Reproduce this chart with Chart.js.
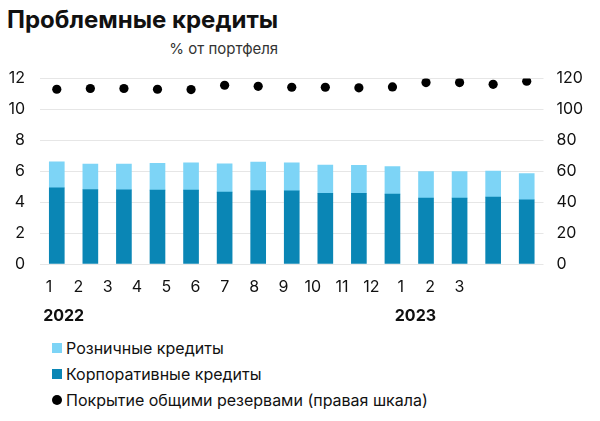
<!DOCTYPE html>
<html>
<head>
<meta charset="utf-8">
<script src="https://cdn.jsdelivr.net/npm/chart.js@4"></script>
<style>
  body { margin: 0; background: #fff; font-family: Inter, "Noto Sans", sans-serif; color: #111; }
  #head { position: absolute; left: 7px; top: 6px; display: inline-block; }
  #head h1 { margin: 0; font-size: 24px; line-height: 27px; font-weight: 700; letter-spacing: 0px; }
  #head div { text-align: right; font-size: 15px; color: #333; margin-top: 6px; }
  #box { position: absolute; left: 0; top: 54px; width: 600px; height: 276px; }
  #legend { position: absolute; left: 52px; top: 335px; font-size: 16px; }
  #legend div { height: 26px; display: flex; align-items: center; }
  #legend span.m { display: inline-block; width: 10px; height: 10px; margin-right: 4px; }
</style>
</head>
<body>
<div id="head">
  <h1>Проблемные кредиты</h1>
  <div>% от портфеля</div>
</div>
<div id="box"><canvas id="myChart"></canvas></div>
<div id="legend"></div>
<script>
// months (2022-1 .. 2023-3)
var months = ['1','2','3','4','5','6','7','8','9','10','11','12','1','2','3'];
var years = ['2022', '2023'];
// % of portfolio
var corporate = [4.93,4.82,4.80,4.78,4.78,4.65,4.76,4.73,4.58,4.58,4.52,4.26,4.26,4.33,4.16];
var retail = [1.69,1.65,1.67,1.73,1.77,1.84,1.84,1.82,1.82,1.80,1.78,1.72,1.72,1.69,1.69];
// coverage, % (right scale)
var coverage = [113.1,113.6,113.6,113.1,112.9,115.7,115.0,114.4,114.4,114.0,114.6,117.4,117.4,116.3,118.3];
var leftTicks = [0,2,4,6,8,10,12];
var rightTicks = [0,20,40,60,80,100,120];

var fontFamily = 'Inter, "Noto Sans", sans-serif';
var yearStarts = [];
months.forEach(function(m, i){ if (m === '1') yearStarts.push(i + 1.5); });

const ctx = document.getElementById('myChart').getContext('2d');
const myChart = new Chart(ctx, {
    type: 'bar',
    data: {
        labels: months,
        datasets: [{
            label: 'Покрытие общими резервами (правая шкала)',
            type: 'line',
            data: coverage,
            yAxisID: 'y1',
            showLine: false,
            pointRadius: 4.6,
            pointBackgroundColor: '#000',
            pointBorderWidth: 0,
            order: 0
        }, {
            label: 'Корпоративные кредиты',
            data: corporate,
            backgroundColor: '#0a86b5',
            order: 1
        }, {
            label: 'Розничные кредиты',
            data: retail,
            backgroundColor: '#7dd4f6',
            order: 1
        }]
    },
    options: {
        responsive: true,
        maintainAspectRatio: false,
        animation: false,
        layout: { padding: 0 },
        datasets: { bar: { barThickness: 15 } },
        scales: {
            x: {
                stacked: true,
                display: false
            },
            xm: {
                type: 'linear',
                position: 'bottom',
                offset: false,
                min: 0.693,
                max: 17.87,
                grid: { display: false, drawTicks: false, offset: false },
                border: { display: false },
                afterBuildTicks: function(axis){
                    axis.ticks = months.map(function(m, i){ return { value: i + 1 }; });
                },
                afterFit: function(axis){ axis.height = 29; },
                ticks: {
                    padding: 14,
                    maxRotation: 0,
                    autoSkip: false,
                    color: '#111',
                    font: { family: fontFamily, size: 16 },
                    callback: function(v, i){ return months[i]; }
                }
            },
            xy: {
                type: 'linear',
                position: 'bottom',
                offset: false,
                min: 0.693,
                max: 17.87,
                grid: { display: false, drawTicks: false, offset: false },
                border: { display: false },
                afterBuildTicks: function(axis){
                    axis.ticks = yearStarts.map(function(v){ return { value: v }; });
                },
                afterFit: function(axis){ axis.height = 37; },
                ticks: {
                    padding: 14,
                    maxRotation: 0,
                    autoSkip: false,
                    color: '#111',
                    font: { family: fontFamily, size: 16, weight: 'bold' },
                    callback: function(v, i){ return years[i]; }
                }
            },
            y: {
                stacked: true,
                min: 0,
                max: 12,
                position: 'left',
                afterBuildTicks: function(axis){
                    axis.ticks = leftTicks.map(function(v){ return { value: v }; });
                },
                afterFit: function(axis){ axis.width = 40; },
                grid: { color: '#e6e6e6', drawTicks: false },
                border: { display: false },
                ticks: {
                    padding: 15,
                    color: '#111',
                    font: { family: fontFamily, size: 16 }
                }
            },
            y1: {
                min: 0,
                max: 120,
                position: 'right',
                afterBuildTicks: function(axis){
                    axis.ticks = rightTicks.map(function(v){ return { value: v }; });
                },
                afterFit: function(axis){ axis.width = 56.5; },
                grid: { display: false, drawTicks: false },
                border: { display: false },
                ticks: {
                    padding: 13,
                    color: '#111',
                    font: { family: fontFamily, size: 16 }
                }
            }
        },
        plugins: {
            legend: { display: false },
            tooltip: { enabled: false }
        }
    }
});

// legend below the chart, from the datasets
var legendOrder = [2, 1, 0];
var legendEl = document.getElementById('legend');
legendOrder.forEach(function(i){
    var ds = myChart.data.datasets[i];
    var row = document.createElement('div');
    var mark = document.createElement('span');
    mark.className = 'm';
    if (ds.type === 'line') {
        mark.style.background = ds.pointBackgroundColor;
        mark.style.borderRadius = '50%';
    } else {
        mark.style.background = ds.backgroundColor;
    }
    row.appendChild(mark);
    row.appendChild(document.createTextNode(ds.label));
    legendEl.appendChild(row);
});
</script>
</body>
</html>
